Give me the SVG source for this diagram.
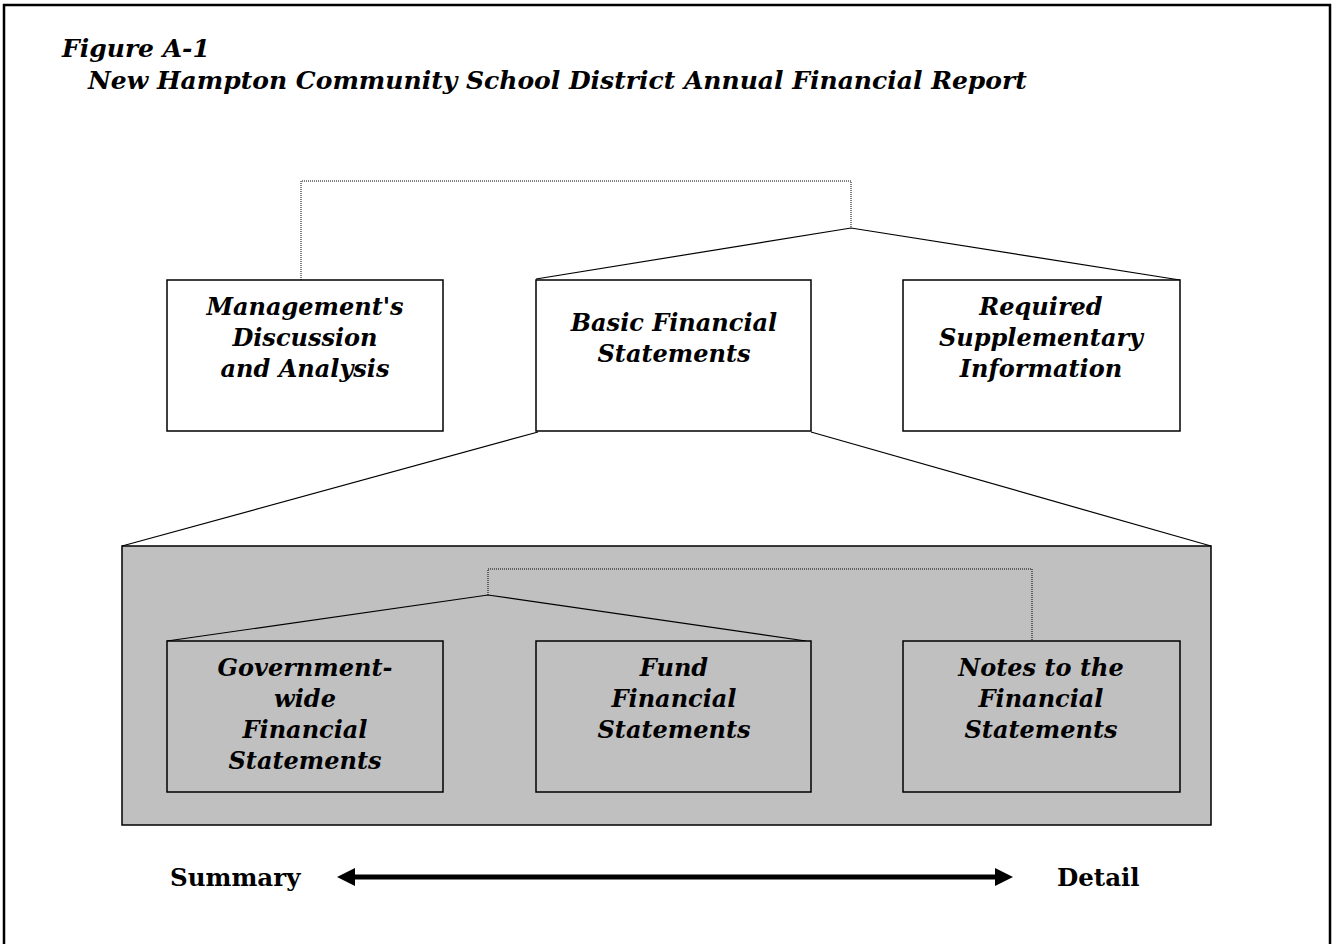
<svg xmlns="http://www.w3.org/2000/svg" width="1335" height="944" viewBox="0 0 1335 944">
<style>
text{font-family:"DejaVu Serif","Liberation Serif",serif;font-weight:bold;font-style:italic;font-size:24px;fill:#000}
.c{text-anchor:middle}
.t{font-size:25px}
.box{fill:#fff;stroke:#000;stroke-width:1.5}
.gbox{fill:#c0c0c0;stroke:#000;stroke-width:1.5}
.dot{fill:none;stroke:#000;stroke-width:1;stroke-dasharray:1 1}
.sol{fill:none;stroke:#000;stroke-width:1.2}
.lbl{font-style:normal;font-size:24.5px}
</style>
<defs>
<marker id="ah" viewBox="0 0 10 10" refX="0" refY="5" markerWidth="3.6" markerHeight="3.6" orient="auto-start-reverse" markerUnits="strokeWidth">
<path d="M0,0 L10,5 L0,10 z" fill="#000"/>
</marker>
</defs>
<rect x="0" y="0" width="1335" height="944" fill="#fff"/>
<path d="M4,944 L4,5 L1330,5 L1330,944" fill="none" stroke="#000" stroke-width="2.5"/>
<g id="title">
<text class="t" x="62" y="57">Figure A-1</text>
<text class="t" x="88" y="89">New Hampton Community School District Annual Financial Report</text>
</g>
<g id="background">
<rect id="bfs-panel" class="gbox" x="122" y="546" width="1089" height="279"/>
</g>
<g id="connectors">
<path class="dot" d="M301,280 V181 H851 V228"/>
<path class="sol" d="M536,279 L851,228 L1180,280"/>
<path class="sol" d="M538,432 L122,546"/>
<path class="sol" d="M811,432 L1211,546"/>
<path class="dot" d="M488,595 V569 H1032 V641"/>
<path class="sol" d="M167,641 L488,595 L806,641"/>
<line x1="355" y1="877" x2="995" y2="877" stroke="#000" stroke-width="5" marker-start="url(#ah)" marker-end="url(#ah)"/>
</g>
<g id="mda">
<rect class="box" x="167" y="280" width="276" height="151"/>
<text class="c" x="305" y="315">Management's</text>
<text class="c" x="305" y="346">Discussion</text>
<text class="c" x="305" y="377">and Analysis</text>
</g>
<g id="bfs">
<rect class="box" x="536" y="280" width="275" height="151"/>
<text class="c" x="674" y="331">Basic Financial</text>
<text class="c" x="674" y="362">Statements</text>
</g>
<g id="rsi">
<rect class="box" x="903" y="280" width="277" height="151"/>
<text class="c" x="1041" y="315">Required</text>
<text class="c" x="1041" y="346">Supplementary</text>
<text class="c" x="1041" y="377">Information</text>
</g>
<g id="gwfs">
<rect class="gbox" x="167" y="641" width="276" height="151"/>
<text class="c" x="305" y="676">Government-</text>
<text class="c" x="305" y="707">wide</text>
<text class="c" x="305" y="738">Financial</text>
<text class="c" x="305" y="769">Statements</text>
</g>
<g id="ffs">
<rect class="gbox" x="536" y="641" width="275" height="151"/>
<text class="c" x="674" y="676">Fund</text>
<text class="c" x="674" y="707">Financial</text>
<text class="c" x="674" y="738">Statements</text>
</g>
<g id="notes">
<rect class="gbox" x="903" y="641" width="277" height="151"/>
<text class="c" x="1041" y="676">Notes to the</text>
<text class="c" x="1041" y="707">Financial</text>
<text class="c" x="1041" y="738">Statements</text>
</g>
<g id="scale">
<text class="lbl" x="170" y="886">Summary</text>
<text class="lbl" x="1057" y="886">Detail</text>
</g>
</svg>
